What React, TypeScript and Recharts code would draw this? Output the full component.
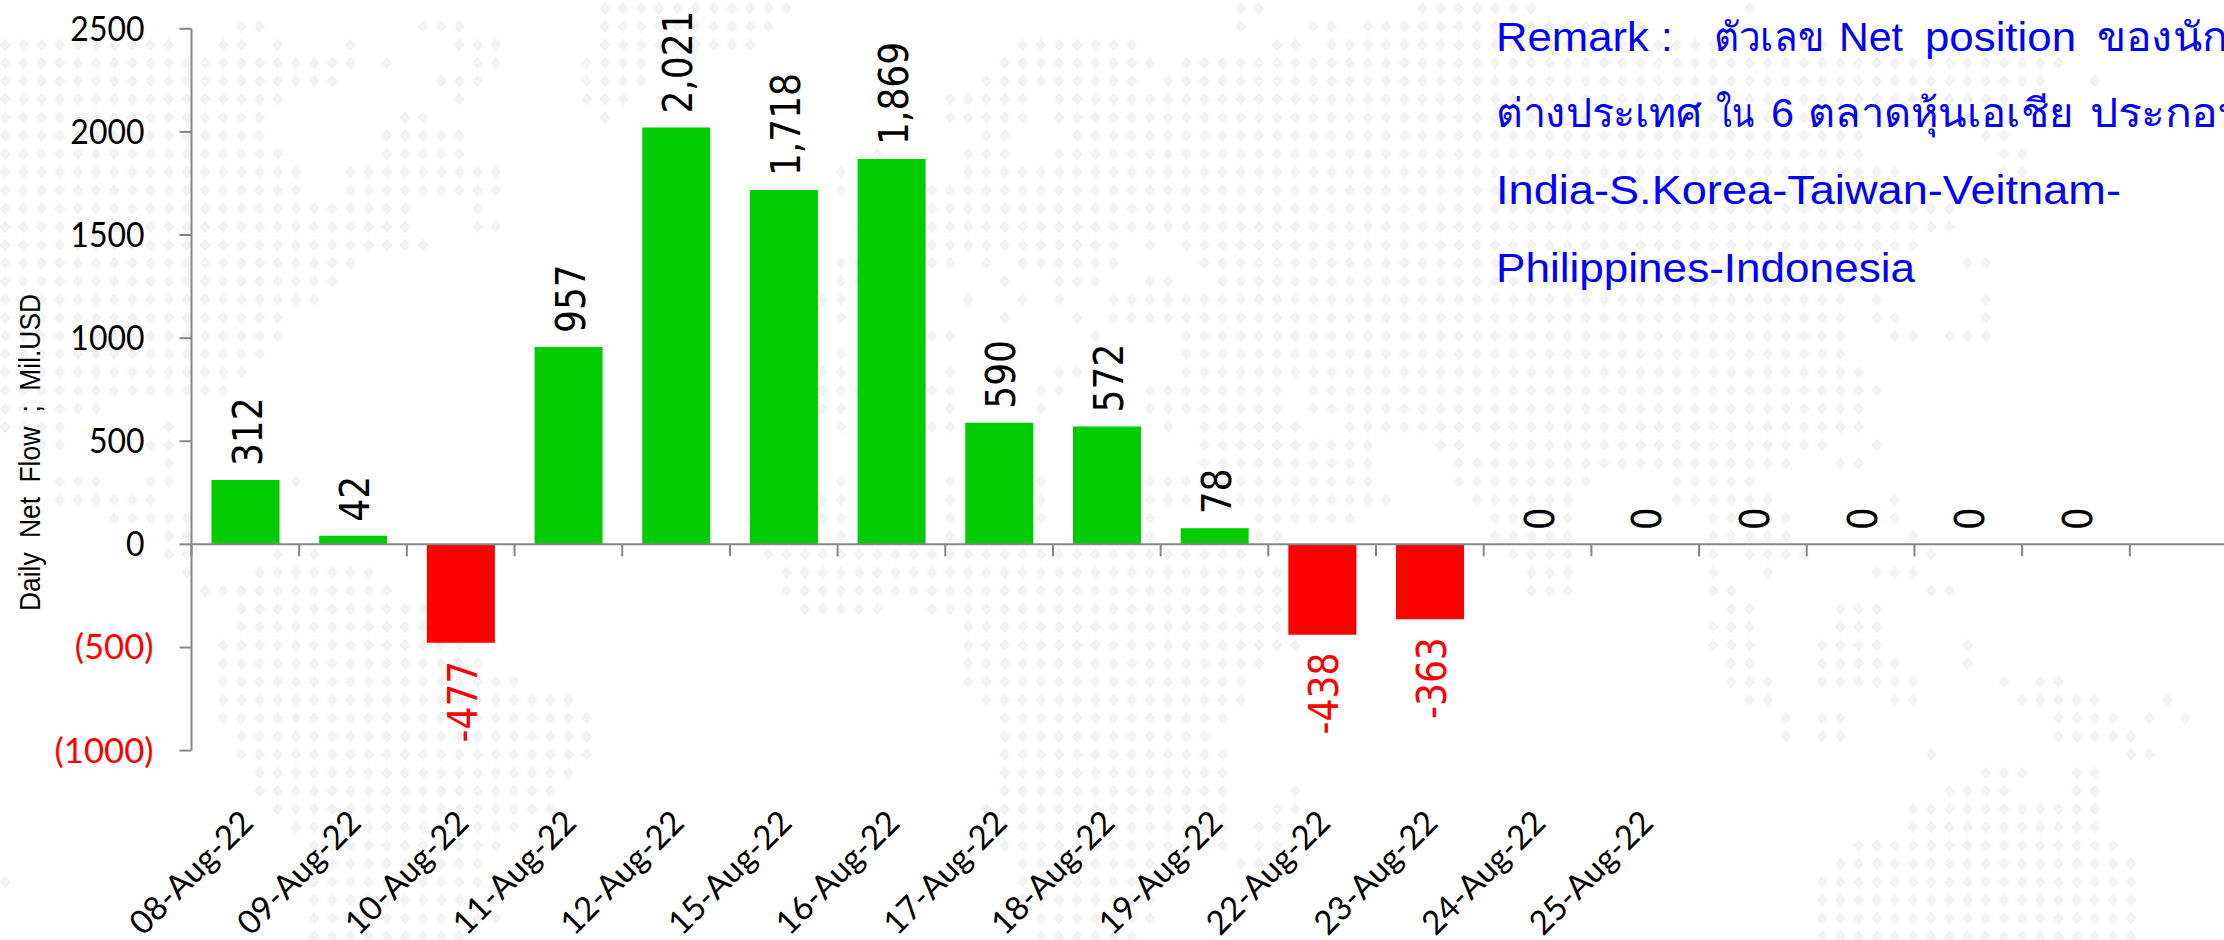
import React from 'react';
import { BarChart, Bar, XAxis, YAxis, Cell, ReferenceLine, LabelList, Label } from 'recharts';

// ---- chart data ----
const dateLabels = ['08-Aug-22','09-Aug-22','10-Aug-22','11-Aug-22','12-Aug-22','15-Aug-22','16-Aug-22','17-Aug-22','18-Aug-22','19-Aug-22','22-Aug-22','23-Aug-22','24-Aug-22','25-Aug-22','','','','',''];
const netFlow: (number | null)[] = [312,42,-477,957,2021,1718,1869,590,572,78,-438,-363,0,0,0,0,0,0,null];
const yTicks = [-1000,-500,0,500,1000,1500,2000,2500];
const yDomain = [-1000,2500];
const yTitle = 'Daily Net Flow ; Mil.USD';
const remarkWords = ['Remark :','ตัวเลข','Net','position','ของนักลงทุน','ต่างประเทศ','ใน','6','ตลาดหุ้นเอเชีย','ประกอบด้วย','India-S.Korea-Taiwan-Veitnam-','Philippines-Indonesia'];

const GREEN = '#00CC00';
const RED = '#FF0000';
const AXIS = '#868686';
const BLUE = '#0000FF';

// background dotted world map: runs of [firstCol,lastCol] for each row
const mapRows: number[][][] = [
[[33,43],[68,69],[78,84],[96,96]],
[[13,14],[23,25],[33,42],[68,68],[72,73],[75,90]],
[[0,9],[12,13],[15,15],[19,19],[25,27],[33,41],[56,62],[70,71],[73,100]],
[[0,19],[21,21],[26,27],[32,35],[55,63],[65,113]],
[[0,18],[24,26],[32,35],[54,62],[64,112],[115,115]],
[[0,15],[25,25],[32,34],[52,56],[58,110]],
[[0,14],[22,23],[33,33],[52,56],[58,108]],
[[0,14],[21,25],[54,55],[59,102],[109,110]],
[[0,15],[21,25],[48,48],[53,55],[58,102],[110,111]],
[[0,16],[19,27],[46,46],[53,104],[110,111]],
[[0,16],[19,27],[46,46],[51,104]],
[[0,22],[26,26],[51,107]],
[[0,22],[26,27],[47,47],[51,107]],
[[0,23],[51,61],[63,63],[65,105]],
[[0,19],[46,47],[51,52],[54,54],[56,61],[66,102],[108,109]],
[[0,18],[46,47],[55,55],[58,60],[63,64],[67,102]],
[[0,17],[45,46],[53,53],[56,56],[58,58],[61,101],[103,103],[109,109]],
[[0,15],[46,46],[55,55],[59,59],[61,101],[103,104],[109,109]],
[[0,15],[51,52],[60,60],[65,101],[104,105],[107,109]],
[[0,14],[46,46],[65,101]],
[[0,13],[45,46],[52,52],[58,59],[65,102]],
[[0,12],[45,47],[51,52],[57,58],[63,70],[72,103]],
[[0,5],[45,46],[52,52],[57,57],[63,70],[72,102]],
[[0,3],[9,9],[46,46],[51,51],[52,52],[64,64],[66,71],[74,102]],
[[1,3],[8,9],[66,75],[79,80],[82,100],[103,103]],
[[9,9],[66,75],[80,98],[101,102]],
[[3,5],[8,9],[16,16],[46,46],[52,52],[57,57],[63,75],[80,87],[92,96]],
[[3,8],[45,46],[52,52],[57,57],[63,76],[81,86],[92,97],[104,104]],
[[6,10],[41,41],[45,46],[52,52],[57,57],[63,63],[69,74],[82,86],[94,98],[104,104]],
[[9,10],[46,46],[52,52],[63,63],[69,70],[82,86],[94,98],[105,105]],
[[9,10],[15,15],[17,17],[42,68],[83,86],[94,94],[96,99],[106,106]],
[[10,10],[14,20],[43,70],[84,86],[94,94],[97,97],[103,105]],
[[11,21],[43,70],[84,86],[94,95],[106,107]],
[[13,23],[44,48],[51,70],[95,96],[101,103]],
[[13,23],[53,70],[94,96],[101,103]],
[[12,25],[53,71],[94,96],[100,103],[108,108]],
[[12,26],[53,69],[95,96],[100,104],[108,108]],
[[12,28],[53,68],[95,97],[100,105],[110,110],[112,113]],
[[12,31],[54,68],[96,97],[104,105],[111,115],[119,119]],
[[12,32],[55,67],[98,98],[100,101],[113,116],[118,118],[120,120]],
[[13,32],[55,66],[98,98],[100,101],[113,117]],
[[13,32],[55,67],[106,106],[117,118]],
[[14,31],[55,67],[109,111],[114,115]],
[[14,30],[55,67],[71,71],[107,110],[114,115]],
[[15,30],[54,67],[70,71],[105,115]],
[[16,28],[54,67],[69,70],[105,115]],
[[17,27],[55,67],[69,70],[102,116]],
[[17,26],[56,64],[68,69],[101,117]],
[[0,0],[17,26],[56,63],[100,117]],
[[17,25],[56,63],[100,117]],
[[17,27],[57,63],[100,117]],
[[17,25],[57,62],[100,117]],
];

const chartData = dateLabels.map((date, i) => ({ date, net: netFlow[i], edge: i }));
const boundaries = dateLabels.map((_, i) => i);

function buildDots() {
  let d = '';
  mapRows.forEach((runs, r) => {
    const y = 8.3 + 18.2 * r;
    runs.forEach(([a, b]) => {
      for (let c = a; c <= b; c++) {
        const x = 5.2 + 18.17 * c;
        d += `M${x - 5.5} ${y}L${x} ${y - 6.5}L${x + 5.5} ${y}L${x} ${y + 6.5}Z`;
      }
    });
  });
  return d;
}

const YTick = (p: any) => {
  const v = p.payload.value;
  const neg = v < 0;
  const label = neg ? `(${Math.abs(v)})` : String(v);
  return (
    <text transform={`translate(${p.x - (neg ? 26 : 35)},${p.y + 12}) scale(${neg ? 1.02 : 0.94},1)`} textAnchor="end"
      fontFamily="Lato" fontSize={34} fill={neg ? RED : '#000'}>{label}</text>
  );
};

const XTick = (p: any) => {
  const label = p.payload.value;
  if (!label) return <g />;
  return (
    <text transform={`translate(${p.x + 10},${p.y + 74}) rotate(-45)`} textAnchor="end"
      fontFamily="Lato" fontSize={33} fill="#000">{label}</text>
  );
};

const ValueLabel = (p: any) => {
  const { x, y, width, height, value } = p;
  if (value === null || value === undefined) return null;
  const neg = value < 0;
  const cx = x + width / 2 + 16;
  const edge = neg ? Math.max(y, y + height) + 18 : Math.min(y, y + height) - 14;
  const text = neg ? String(value) : Number(value).toLocaleString('en-US');
  return (
    <text transform={`translate(${cx},${edge}) rotate(-90) scale(0.9,1)`} textAnchor={neg ? 'end' : 'start'}
      fontFamily="DejaVu Sans" fontSize={40} fill={neg ? RED : '#000'}>{text}</text>
  );
};

const YTitle = () => (
  <text transform="translate(40,611) rotate(-90) scale(0.88,1)" fontFamily="Liberation Sans" fontSize={30}
    wordSpacing={8} fill="#000">{yTitle}</text>
);

const remarkX = [1496,1714,1839,1925,2097,1496,1716,1771,1808,2090,1496,1496];
const remarkY = [51,51,51,51,51,127,127,127,127,127,204,282];
const remarkLen = [177,110,64,151,235,206,38,23,265,235,625,419];

export default function App() {
  return (
    <div style={{ position: 'absolute', left: 0, top: 0, width: 2224, height: 940, overflow: 'hidden', background: '#fff' }}>
      <svg width={2224} height={940} style={{ position: 'absolute', left: 0, top: 0 }}>
        <path d={buildDots()} fill="#F3F3F3" />
      </svg>
      <div style={{ position: 'absolute', left: 0, top: 0 }}>
        <BarChart width={2300} height={940} data={chartData} barSize={68}
          margin={{ top: 28.8, left: 91.5, right: 62.5, bottom: 188.4 }}>
          <XAxis dataKey="date" height={1} tickSize={0} tickMargin={0} interval={0} axisLine={false} tickLine={false} tick={<XTick />} />
          <XAxis xAxisId="edges" dataKey="edge" type="number" scale="linear" domain={[0, 19]} allowDataOverflow hide />
          <YAxis width={100} domain={yDomain} ticks={yTicks} tickSize={12} tickMargin={0} interval={0} allowDataOverflow
            axisLine={{ stroke: AXIS, strokeWidth: 2 }} tickLine={{ stroke: AXIS, strokeWidth: 2 }} tick={<YTick />}>
            <Label content={<YTitle />} />
          </YAxis>
          <Bar dataKey="net" minPointSize={0.01} isAnimationActive={false}>
            {chartData.map((d, i) => <Cell key={i} fill={(d.net ?? 0) < 0 ? RED : GREEN} />)}
            <LabelList dataKey="net" content={<ValueLabel />} />
          </Bar>
          <ReferenceLine y={0} stroke={AXIS} strokeWidth={2} ifOverflow="visible" />
          {boundaries.map((b) => (
            <ReferenceLine key={b} xAxisId="edges" stroke={AXIS} strokeWidth={2} ifOverflow="visible"
              segment={[{ x: b, y: 0 }, { x: b, y: -58 }]} />
          ))}
        </BarChart>
      </div>
      <svg width={2224} height={940} style={{ position: 'absolute', left: 0, top: 0, pointerEvents: 'none' }}>
        {remarkWords.map((w, i) => (
          <text key={i} x={remarkX[i]} y={remarkY[i]} textLength={remarkLen[i]} lengthAdjust="spacingAndGlyphs"
            fontFamily="Liberation Sans, Noto Sans" fontSize={40} fill={BLUE}>{w}</text>
        ))}
      </svg>
    </div>
  );
}
